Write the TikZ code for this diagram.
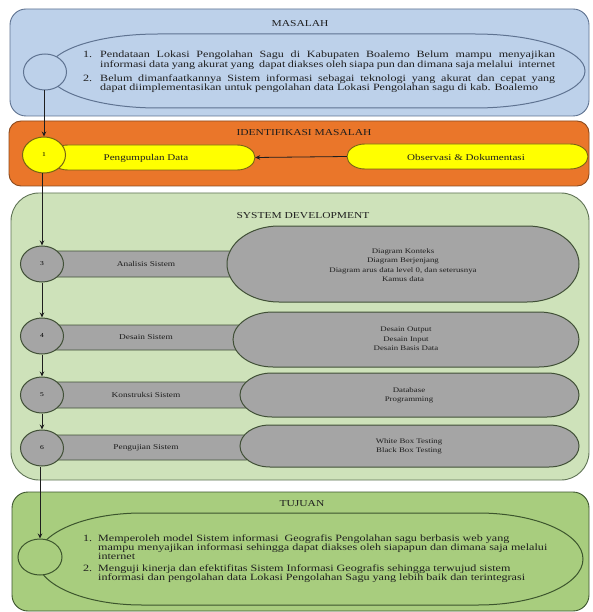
\documentclass[tikz,border=0pt]{standalone}
\usepackage{fontspec}
\setmainfont{Liberation Serif}[FakeStretch=1.26]
\usetikzlibrary{shapes.geometric,arrows.meta,calc}

\definecolor{blueFill}{RGB}{189,209,234}
\definecolor{blueLine}{RGB}{95,115,145}
\definecolor{orangeFill}{RGB}{234,118,42}
\definecolor{orangeLine}{RGB}{140,75,30}
\definecolor{yellowFill}{RGB}{255,255,0}
\definecolor{yellowLine}{RGB}{120,100,20}
\definecolor{sdFill}{RGB}{206,226,186}
\definecolor{sdLine}{RGB}{95,115,85}
\definecolor{grayFill}{RGB}{165,165,165}
\definecolor{grayLine}{RGB}{65,80,55}
\definecolor{tujFill}{RGB}{168,205,126}
\definecolor{tujLine}{RGB}{60,85,45}
\definecolor{ink}{RGB}{30,30,30}

\newcommand\titlefont{\fontsize{9.1}{10}\selectfont}
\newcommand\bodyfont{\fontsize{9.6}{9.4}\selectfont}
\newcommand\capsfont{\fontsize{8.8}{10}\selectfont}
\newcommand\smallfont{\fontsize{7.4}{9.4}\selectfont}
\newcommand\ovalfont{\fontsize{7.0}{9.3}\selectfont}

% capsule: name, left x, right x, centre y, half height, cap x radius, style
\newcommand\capsule[7]{%
  \path[#7] (#2+#6,#4-#5) -- (#3-#6,#4-#5)
    arc[start angle=-90,end angle=90,x radius=#6,y radius=#5]
    -- (#2+#6,#4+#5)
    arc[start angle=90,end angle=270,x radius=#6,y radius=#5] -- cycle;
  \node[inner sep=0pt, minimum width=#3-#2, minimum height=2*#5] (#1) at ({(#2+#3)/2},#4) {};
}

\tikzset{
  panel/.style={draw=#1Line, fill=#1Fill, line width=0.9pt},
  title/.style={font=\titlefont, text=ink, inner sep=0pt},
  stepcircle/.style={ellipse, draw=#1, line width=1pt, inner sep=0pt,
    minimum width=43pt, minimum height=36pt, font=\fontsize{6}{7}\selectfont},
  bar/.style={draw=grayLine, fill=grayFill, line width=0.9pt, rounded corners=3pt,
    inner sep=0pt, font=\smallfont, text=ink},
  flow/.style={draw=ink, line width=0.8pt, -{Stealth[length=5pt,width=4.5pt]}},
  label/.style={font=\ovalfont, text=ink, align=center, inner sep=0pt},
}

\begin{document}
\begin{tikzpicture}[x=1pt,y=-1pt]
\useasboundingbox[fill=white] (0,0) rectangle (592,612);

% ---------------- MASALAH ----------------
\draw[panel=blue, rounded corners=16pt] (10,9) rectangle (589,116);
\node[title] (tmas) at (300,24) {MASALAH};
\capsule{moval}{48}{585}{71}{37}{110}{draw=blueLine, fill=blueFill, line width=1pt}
\node[anchor=base west, inner sep=0pt, font=\bodyfont, text=ink] (mtext) at (83,58) {%
  \begin{tabular}[t]{@{}l@{}}
  \makebox[17pt][l]{1.}\makebox[455pt][s]{Pendataan Lokasi Pengolahan Sagu di Kabupaten Boalemo Belum mampu menyajikan}\\
  \hspace*{17pt}\makebox[455pt][s]{informasi data yang akurat yang\ \ dapat diakses oleh siapa pun dan dimana saja melalui\ \ internet}\\[4pt]
  \makebox[17pt][l]{2.}\makebox[455pt][s]{Belum dimanfaatkannya Sistem informasi sebagai teknologi yang akurat dan cepat yang}\\
  \hspace*{17pt}dapat diimplementasikan untuk pengolahan data Lokasi Pengolahan sagu di kab. Boalemo
  \end{tabular}};
\node[stepcircle=blueLine, fill=blueFill] (mc) at (45,72) {};

% ---------------- IDENTIFIKASI MASALAH ----------------
\draw[panel=orange, rounded corners=12pt] (9,121) rectangle (589,186);
\node[title] (tid) at (304,133) {IDENTIFIKASI MASALAH};
\capsule{peng}{50}{255}{157.5}{12.5}{18}{draw=yellowLine, fill=yellowFill, line width=0.9pt}
\node[label, font=\capsfont] (pengt) at (146,158) {Pengumpulan Data};
\capsule{obs}{347}{588}{156.5}{12.5}{18}{draw=yellowLine, fill=yellowFill, line width=0.9pt}
\node[label, font=\capsfont] (obst) at (466,157) {Observasi \& Dokumentasi};
\draw[flow] (obs.west) -- (peng.east);
\node[stepcircle=yellowLine, fill=yellowFill] (c1) at (44,155) {1};

% ---------------- SYSTEM DEVELOPMENT ----------------
\draw[panel=sd, rounded corners=28pt] (11,193) rectangle (589,480);
\node[title] (tsd) at (303,216) {SYSTEM DEVELOPMENT};

% row 3
\node[bar, minimum width=206pt, minimum height=26pt] (b3) at (146,264) {Analisis Sistem};
\capsule{e3}{227}{579}{264}{38}{52}{draw=grayLine, fill=grayFill, line width=1pt}
\node[label] (e3t) at (403,265) {Diagram Konteks\\Diagram Berjenjang\\Diagram arus data level 0, dan seterusnya\\Kamus data};
\node[stepcircle=grayLine, fill=grayFill] (c3) at (42,264) {3};

% row 4
\node[bar, minimum width=206pt, minimum height=25pt] (b4) at (146,337.5) {Desain Sistem};
\capsule{e4}{233}{579}{339.5}{27.5}{40}{draw=grayLine, fill=grayFill, line width=1pt}
\node[label] (e4t) at (406,339) {Desain Output\\Desain Input\\Desain Basis Data};
\node[stepcircle=grayLine, fill=grayFill] (c4) at (42,336) {4};

% row 5
\node[bar, minimum width=206pt, minimum height=26pt] (b5) at (146,395) {Konstruksi Sistem};
\capsule{e5}{240}{579}{395}{22}{32}{draw=grayLine, fill=grayFill, line width=1pt}
\node[label] (e5t) at (409,395) {Database\\Programming};
\node[stepcircle=grayLine, fill=grayFill] (c5) at (42,395) {5};

% row 6
\node[bar, minimum width=206pt, minimum height=25pt] (b6) at (146,447.5) {Pengujian Sistem};
\capsule{e6}{240}{579}{446}{21}{30}{draw=grayLine, fill=grayFill, line width=1pt}
\node[label] (e6t) at (409,446) {White Box Testing\\Black Box Testing};
\node[stepcircle=grayLine, fill=grayFill] (c6) at (42,448) {6};

% ---------------- TUJUAN ----------------
\draw[panel=tuj, rounded corners=16pt] (12,492) rectangle (589,611);
\node[title] (ttuj) at (302,504) {TUJUAN};
\capsule{toval}{37}{583}{559}{46}{105}{draw=tujLine, fill=tujFill, line width=1pt}
\node[anchor=base west, inner sep=0pt, font=\bodyfont, text=ink] (ttext) at (83,541) {%
  \begin{tabular}[t]{@{}l@{}}
  \makebox[15pt][l]{1.}Memperoleh model Sistem informasi\ \ Geografis Pengolahan sagu berbasis web yang\\
  \hspace*{15pt}mampu menyajikan informasi sehingga dapat diakses oleh siapapun dan dimana saja melalui\\
  \hspace*{15pt}internet\\[1.5pt]
  \makebox[15pt][l]{2.}Menguji kinerja dan efektifitas Sistem Informasi Geografis sehingga terwujud sistem\\
  \hspace*{15pt}informasi dan pengolahan data Lokasi Pengolahan Sagu yang lebih baik dan terintegrasi
  \end{tabular}};
\node[stepcircle=tujLine, fill=tujFill, minimum width=44pt] (tc) at (40,557) {};

% ---------------- flow ----------------
\draw[flow] (c1.north |- mc.south) -- (c1.north);
\draw[flow] (c3.north |- c1.south) -- (c3.north);
\draw[flow] (c3.south) -- (c4.north);
\draw[flow] (c4.south) -- (c5.north);
\draw[flow] (c5.south) -- (c6.north);
\draw[flow] (tc.north |- c6.south) -- (tc.north);
\end{tikzpicture}
\end{document}
